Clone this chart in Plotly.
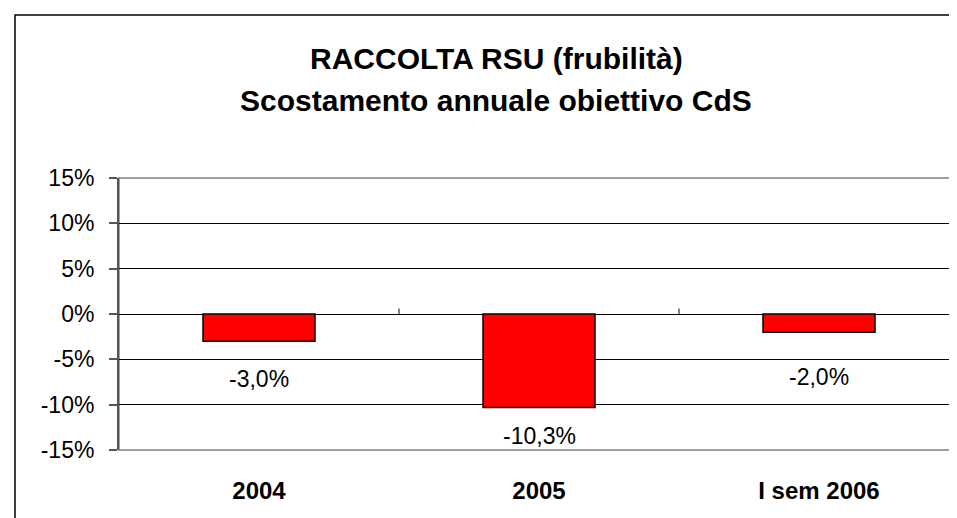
import plotly.graph_objects as go

categories = ["2004", "2005", "I sem 2006"]
values = [-0.030, -0.103, -0.020]
value_labels = ["-3,0%", "-10,3%", "-2,0%"]
y_tick_vals = [-0.15, -0.10, -0.05, 0.0, 0.05, 0.10, 0.15]
y_tick_text = ["-15%", "-10%", "-5%", "0%", "5%", "10%", "15%"]
title_lines = ["RACCOLTA RSU (frubilità)", "Scostamento annuale obiettivo CdS"]

# style: per-label vertical offsets (px) below bar end
label_offsets = [-23, -14, -30]

W, H = 957, 518
L, R, T, B = 111, 6, 170, 76
pw, ph = W - L - R, H - T - B

FONT = "Liberation Sans, Arial, sans-serif"

fig = go.Figure()
fig.add_trace(go.Bar(
    x=list(range(len(categories))), y=values, width=0.4,
    marker=dict(color="#FF0000", line=dict(color="#000000", width=1.5)),
    hoverinfo="skip", showlegend=False,
))

annotations = []
for i, (v, t) in enumerate(zip(values, value_labels)):
    annotations.append(dict(x=i, y=v, xref="x", yref="y", text=t, showarrow=False,
                            yanchor="top", yshift=label_offsets[i],
                            font=dict(family=FONT, size=23, color="#000")))

def py(p):
    return (H - B - p) / ph

annotations.append(dict(x=(488 - L) / pw, y=py(50), xref="paper", yref="paper",
                        text="<b>%s</b>" % title_lines[0], showarrow=False,
                        xanchor="center", yanchor="middle",
                        font=dict(family=FONT, size=30, color="#000")))
annotations.append(dict(x=(488 - L) / pw, y=py(93), xref="paper", yref="paper",
                        text="<b>%s</b>" % title_lines[1], showarrow=False,
                        xanchor="center", yanchor="middle",
                        font=dict(family=FONT, size=30, color="#000")))

shapes = []
# plot-area border (gray)
shapes.append(dict(type="rect", xref="paper", yref="paper", x0=0, x1=1, y0=0, y1=1,
                   line=dict(color="#A0A0A0", width=2), layer="below"))
# outer chart frame (only left/top visible)
shapes.append(dict(type="rect", xref="paper", yref="paper",
                   x0=(7 - L) / pw, x1=1.2, y0=-0.5, y1=py(7),
                   line=dict(color="#000000", width=1.5)))
# category separator ticks on the zero line
for k in range(1, len(categories)):
    shapes.append(dict(type="line", xref="x", yref="y", x0=k - 0.5, x1=k - 0.5,
                       y0=0, y1=0.006, line=dict(color="#000", width=1)))

fig.update_layout(
    width=W, height=H,
    margin=dict(l=L, r=R, t=T, b=B, pad=0),
    paper_bgcolor="white", plot_bgcolor="white",
    annotations=annotations, shapes=shapes,
    xaxis=dict(range=[-0.5, len(categories) - 0.5], tickvals=list(range(len(categories))),
               ticktext=["<b>%s</b>" % c for c in categories], showgrid=False, zeroline=False,
               showline=False, ticks="", ticklabelstandoff=24,
               tickfont=dict(family=FONT, size=24, color="#000")),
    yaxis=dict(range=[-0.15, 0.15], tickvals=y_tick_vals, ticktext=y_tick_text,
               showgrid=True, gridcolor="#000000", gridwidth=1, zeroline=False,
               showline=True, linecolor="#555555", linewidth=2,
               ticks="outside", ticklen=8, tickcolor="#555555", tickwidth=1.5,
               ticklabelstandoff=10,
               tickfont=dict(family=FONT, size=23, color="#000")),
)

fig.write_html("out.html")
